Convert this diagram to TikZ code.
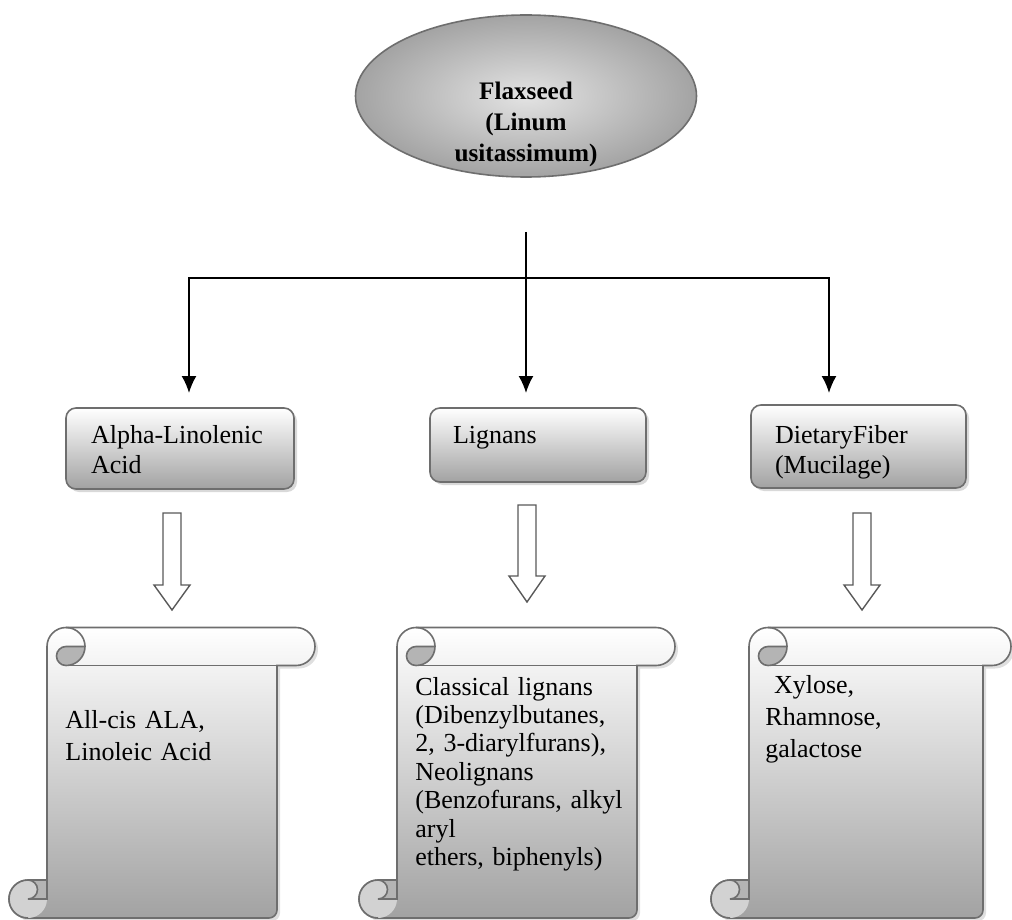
\documentclass[tikz,border=0pt]{standalone}
\usepackage{fontspec}
\setmainfont{Liberation Serif}
\usepackage{tikz}
\usetikzlibrary{shapes.geometric, arrows.meta, shadows}
\definecolor{rim}{HTML}{6E6E6E}
\definecolor{shadelow}{HTML}{A2A2A2}
\definecolor{curl}{HTML}{D2D2D2}
\definecolor{curldark}{HTML}{B4B4B4}
\tikzstyle{seed} = [ellipse, minimum width=170.5pt, minimum height=81pt, draw=rim, line width=0.8pt, inner color=gray!22, outer color=gray!72, text width=110pt, align=center, text height=4pt, text depth=0pt, inner sep=2pt, font=\bfseries\fontsize{12.6}{15.5}\selectfont]
\tikzstyle{compound} = [rectangle, rounded corners=5pt, draw=rim, line width=0.8pt, top color=white, bottom color=shadelow, align=left, inner ysep=0pt, font=\fontsize{13}{15}\selectfont, drop shadow={shadow xshift=1.5pt, shadow yshift=-1.5pt, opacity=0.3}]
\tikzstyle{listing} = [anchor=base west, text width=112pt, align=left, inner sep=0pt, font=\fontsize{13}{16}\selectfont]
\tikzstyle{arrow} = [line width=0.9pt, -{Latex[length=8.5pt,width=7.5pt]}]
\tikzstyle{link} = [line width=0.9pt]
\tikzstyle{hollow} = [draw=black!65, line width=0.7pt, fill=white]
\tikzstyle{scrollfill} = [draw=rim, line width=0.8pt, top color=white, bottom color=shadelow, drop shadow={shadow xshift=1.5pt, shadow yshift=-1.5pt, opacity=0.25}]
\tikzstyle{scrollline} = [draw=rim, line width=0.8pt]

\begin{document}
\begin{tikzpicture}[x=0.5pt, y=-0.5pt]
\useasboundingbox (0,0) rectangle (1012,920);

\node (flax) [seed] at (526,96) {Flaxseed\\(Linum\\usitassimum)};

\node (ala) [compound, text width=89pt, inner xsep=12.5pt, text height=17.5pt, text depth=23pt] at (180,448.5) {Alpha-Linolenic\\Acid};
\node (lig) [compound, text width=85pt, inner xsep=11.5pt, text height=17.5pt, text depth=19.5pt] at (538,445) {Lignans};
\node (fib) [compound, text width=83.5pt, inner xsep=12pt, text height=19pt, text depth=22.5pt] at (858.5,446.5) {DietaryFiber\\(Mucilage)};

\coordinate (fork) at (526,278);
\coordinate (ala-in) at (189,393);
\coordinate (lig-in) at (526,393);
\coordinate (fib-in) at (829,393);
\draw [link, shorten <=27pt] (flax) -- (fork);
\draw [arrow] (fork) -| (ala-in);
\draw [arrow] (fork) -- (lig-in);
\draw [arrow] (fork) -| (fib-in);

% hollow arrows
\foreach \x/\t/\b/\e in {172/513/585/610, 527/505/576/602, 862/513/585/610}
  \draw [hollow] (\x-9,\t) -- (\x+9,\t) -- (\x+9,\b) -- (\x+18,\b) -- (\x,\e) -- (\x-18,\b) -- (\x-9,\b) -- cycle;

% scrolls
\foreach \L/\R/\Rb in {47/315/277, 397/675/637, 749/1011/983} {
  \path [scrollfill] (\L,646.5) arc[start angle=180, end angle=90, radius=9.5pt]
    -- (\R-19,627.5) arc[start angle=90, end angle=-90, radius=9.5pt]
    -- (\Rb,665.5) -- (\Rb,910) arc[start angle=0, end angle=-90, radius=4pt]
    -- (\L-19,918) arc[start angle=-90, end angle=-270, radius=9.5pt]
    -- (\L,880) -- cycle;
  \fill [curl] (\L-19,899) circle[radius=9.5pt];
  \draw [scrollline] (\L-19,918) arc[start angle=-90, end angle=-270, radius=9.5pt];
  \draw [scrollline, fill=curldark] (\L,880) -- (\L-19,880) arc[start angle=90, end angle=-90, radius=4.75pt] -- (\L,899) -- cycle;
  \draw [scrollline, fill=curldark] (\L+19,646.5) -- (\L+38,646.5) arc[start angle=0, end angle=-90, radius=9.5pt] arc[start angle=-90, end angle=-270, radius=4.75pt] -- cycle;
  \draw [scrollline] (\L+19,627.5) arc[start angle=90, end angle=0, radius=9.5pt];
  \draw [scrollline] (\L+19,665.5) -- (\Rb,665.5);
}

\node (ala-list) [listing] at (65,728) {All-cis ALA,\\Linoleic Acid};
\node (lig-list) [listing, font=\fontsize{13}{14.2}\selectfont] at (415,695) {Classical lignans\\(Dibenzylbutanes,\\2, 3-diarylfurans),\\Neolignans\\(Benzofurans, alkyl\\aryl\\ethers, biphenyls)};
\node (fib-list) [listing] at (765,693) {\ Xylose,\\Rhamnose,\\galactose};
\end{tikzpicture}
\end{document}
